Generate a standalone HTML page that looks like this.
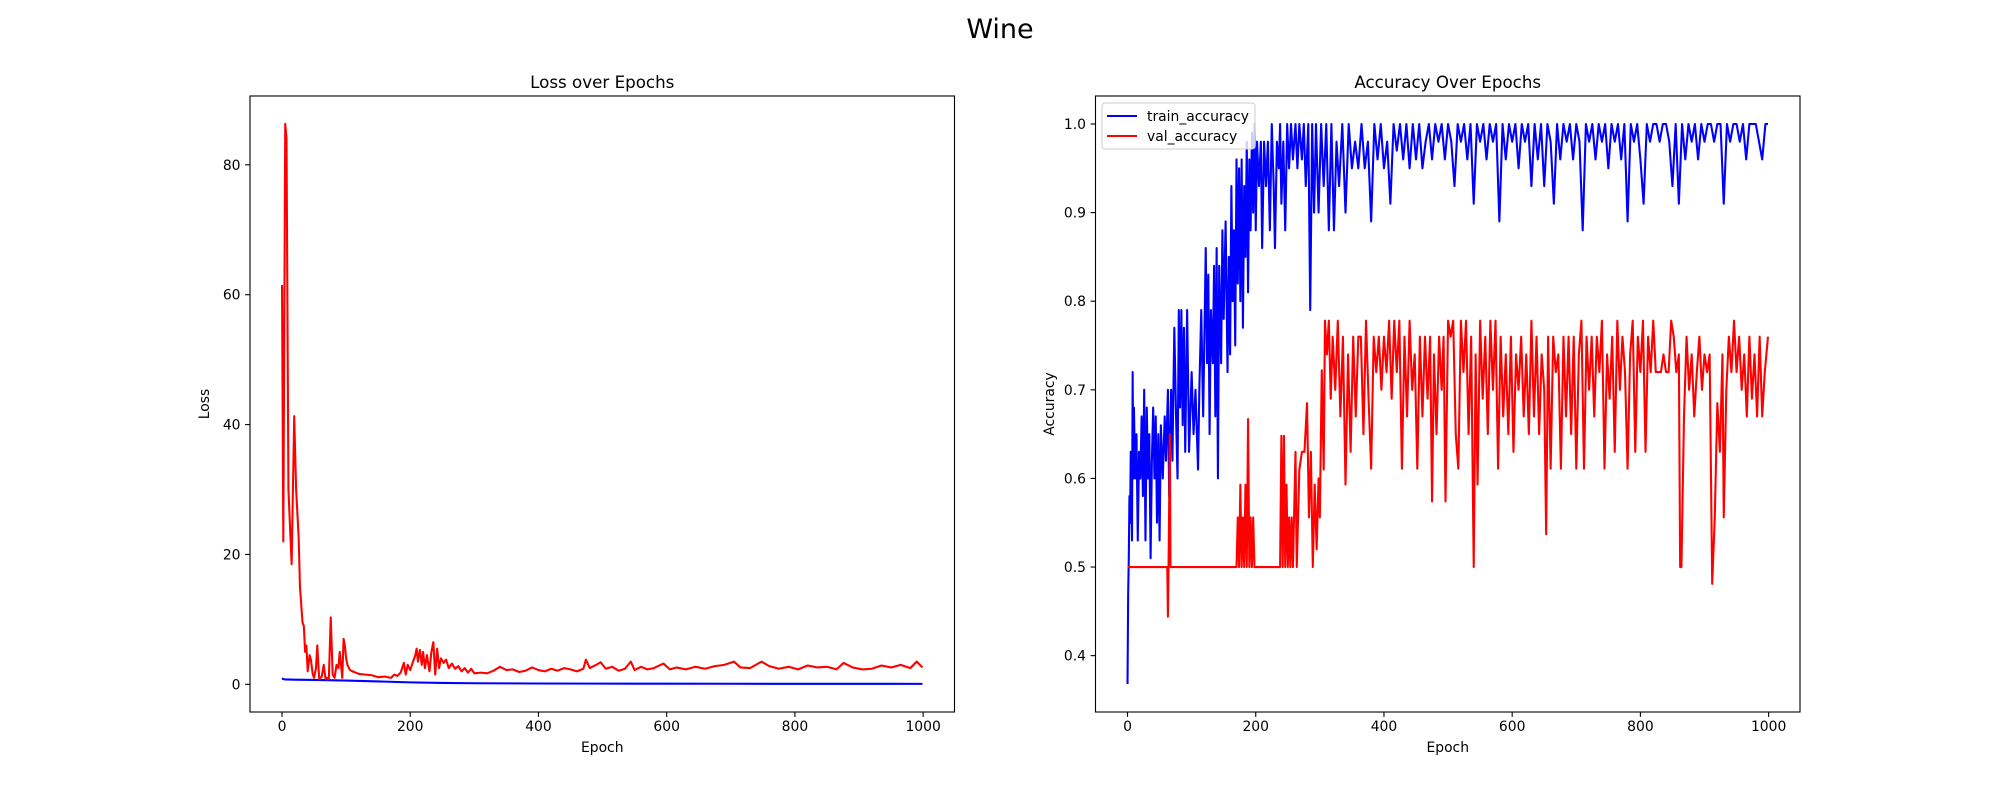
<!DOCTYPE html>
<html><head><meta charset="utf-8">
<style>
html,body{margin:0;padding:0;background:#fff;}
svg{display:block;font-family:"DejaVu Sans","Liberation Sans",sans-serif;}
</style></head>
<body>
<svg id="fig" width="2000" height="800" viewBox="0 0 2000 800" xmlns="http://www.w3.org/2000/svg">
<rect width="2000" height="800" fill="#fff"/>
<text x="1000" y="38" font-size="27" text-anchor="middle">Wine</text>
<g id="left"></g>
<g id="right"></g>
</svg>
<script>
// ---- Loss chart data ----
const lossValEpochs = [0,2,5,7,10,15,19,22,26,28,32,34,36,38,40,43,45,48,50,53,55,58,62,65,68,70,73,76,79,82,85,88,90,92,94,96,98,100,102,106,110,120,130,140,150,160,170,175,180,185,190,193,196,200,204,208,210,212,215,218,220,223,226,230,233,236,239,242,245,248,252,256,260,265,270,275,280,285,290,295,300,310,320,330,340,350,360,370,380,390,400,410,420,430,440,450,460,470,474,480,490,497,505,515,525,535,544,550,560,570,580,595,605,615,630,645,660,675,690,705,715,730,748,760,775,790,805,820,835,850,865,876,890,905,920,935,950,965,980,990,999];
const lossVal = [61.5,22,86.3,84,30,18.5,41.3,30,22.5,15,9.5,9,5,6,2,4.5,3.8,1.5,1,2.5,6,0.8,1.2,3,0.8,1,0.8,10.3,1.5,1,3,2.5,5,3,1,7,6,4,3,2.2,2,1.6,1.5,1.4,1.1,1.2,1,1.5,1.3,1.8,3.3,1.5,3,2.2,3.4,4.5,5.5,3.5,5.3,3,5,2.5,4.5,2,5,6.5,1.5,5.5,2.5,4,3.3,3.8,2.5,3.2,2.4,2.8,2,2.5,1.8,2.4,1.7,1.8,1.7,2.1,2.7,2.2,2.3,1.9,2.1,2.6,2.2,2.0,2.4,2.1,2.5,2.3,2.0,2.4,3.8,2.5,3.0,3.4,2.4,2.7,2.1,2.4,3.5,2.2,2.7,2.3,2.5,3.2,2.3,2.6,2.3,2.7,2.4,2.8,3.0,3.5,2.6,2.5,3.5,2.8,2.4,2.7,2.3,2.9,2.6,2.7,2.3,3.3,2.6,2.3,2.4,2.9,2.6,3.0,2.5,3.5,2.6];
const lossTrainEpochs = [0,2,5,20,50,100,150,200,250,300,400,500,600,700,800,900,999];
const lossTrain = [0.95,0.8,0.75,0.72,0.68,0.58,0.45,0.3,0.22,0.17,0.13,0.11,0.1,0.09,0.08,0.08,0.07];
const lossXTicks = [0,200,400,600,800,1000];
const lossYTicks = [0,20,40,60,80];

// ---- Accuracy chart data ----
const trainAccEpochs = [0,1,2,3,4,5,7,8,9,10,12,14,16,18,20,22,24,26,28,30,32,34,36,38,40,42,44,46,48,50,52,55,58,60,63,65,68,70,73,76,78,80,82,84,86,88,90,93,96,100,103,106,110,112,115,118,122,124,126,128,130,133,135,137,139,141,143,146,148,150,153,156,158,160,162,164,166,168,170,172,174,176,178,180,182,184,186,188,190,192,194,196,198,200,202,205,208,210,213,216,219,222,225,228,230,233,236,238,240,243,246,249,252,255,258,262,265,268,272,275,278,282,285,288,291,294,298,302,306,310,314,318,322,326,330,335,340,345,350,355,360,365,370,375,380,385,390,395,400,405,410,415,420,425,430,435,440,445,450,455,460,465,470,475,480,485,490,495,500,505,510,515,520,525,530,535,540,545,550,555,560,565,570,575,580,585,590,595,600,605,610,615,620,625,630,635,640,645,650,655,660,665,670,675,680,685,690,695,700,705,710,715,720,725,730,735,740,745,750,755,760,765,770,775,780,785,790,795,800,805,810,815,820,825,830,835,840,845,850,855,860,865,870,875,880,885,890,895,900,905,910,915,920,925,930,935,940,945,950,955,960,965,970,975,980,985,990,995,999];
const trainAcc = [0.368,0.47,0.51,0.58,0.55,0.63,0.53,0.72,0.60,0.68,0.60,0.65,0.53,0.63,0.60,0.67,0.58,0.70,0.53,0.68,0.60,0.65,0.51,0.62,0.68,0.60,0.67,0.55,0.65,0.53,0.66,0.60,0.67,0.62,0.70,0.58,0.70,0.62,0.77,0.66,0.60,0.79,0.68,0.79,0.66,0.77,0.63,0.79,0.63,0.72,0.65,0.70,0.61,0.70,0.79,0.67,0.86,0.73,0.83,0.65,0.79,0.73,0.84,0.67,0.86,0.60,0.84,0.73,0.88,0.78,0.89,0.72,0.85,0.74,0.93,0.80,0.88,0.75,0.96,0.82,0.95,0.80,0.96,0.77,0.93,0.85,0.98,0.81,0.96,0.88,0.99,0.90,1.0,0.88,0.98,0.93,0.98,0.86,0.98,0.93,0.98,0.88,1.0,0.93,0.86,0.98,0.95,1.0,0.91,0.98,0.88,1.0,0.95,1.0,0.96,1.0,0.95,1.0,0.96,1.0,0.93,1.0,0.79,1.0,0.90,1.0,0.90,1.0,0.93,1.0,0.88,1.0,0.88,0.98,0.93,1.0,0.90,1.0,0.95,0.98,0.95,1.0,0.95,0.98,0.89,1.0,0.96,1.0,0.95,0.98,0.91,1.0,0.97,1.0,0.96,1.0,0.95,1.0,0.96,1.0,0.95,0.98,1.0,0.96,1.0,0.98,1.0,0.96,1.0,0.98,0.93,1.0,0.98,1.0,0.96,1.0,0.91,1.0,0.98,1.0,0.96,1.0,0.98,1.0,0.89,1.0,0.96,1.0,0.98,1.0,0.95,1.0,0.98,1.0,0.93,1.0,0.96,1.0,0.93,1.0,0.98,0.91,1.0,0.96,1.0,0.98,1.0,0.96,1.0,0.98,0.88,1.0,0.98,1.0,0.96,1.0,0.98,1.0,0.95,1.0,0.98,1.0,0.96,1.0,0.89,1.0,0.98,1.0,0.96,0.91,1.0,0.98,1.0,1.0,0.98,1.0,1.0,0.98,0.93,1.0,0.91,1.0,0.96,1.0,0.98,1.0,0.96,1.0,0.98,1.0,1.0,0.98,1.0,1.0,0.91,1.0,0.98,1.0,1.0,0.98,1.0,0.96,1.0,1.0,1.0,0.98,0.96,1.0,1.0];
const valAccEpochs = [0,62,63,64,66,67,70,170,172,174,176,178,180,182,184,186,188,190,192,194,196,198,238,240,242,244,246,248,250,252,254,256,258,262,264,268,272,276,280,283,286,289,292,295,298,300,303,306,308,311,314,317,320,324,328,332,336,340,344,348,352,356,360,364,368,372,376,380,384,388,392,396,400,404,408,412,416,420,424,428,432,436,440,444,448,452,456,460,464,468,472,475,478,482,486,490,493,496,500,504,508,512,516,520,524,528,532,536,540,543,546,550,554,558,562,566,570,574,578,582,586,590,594,598,602,606,610,614,618,622,626,630,634,638,642,646,650,653,656,660,664,668,672,676,680,684,688,692,696,700,704,708,712,716,720,724,728,732,736,740,744,748,752,756,760,764,768,772,776,780,784,788,792,796,800,804,808,812,816,820,824,828,832,836,840,844,848,852,856,860,862,864,868,872,876,880,884,888,892,896,900,904,908,912,916,920,924,928,930,934,938,942,946,950,954,958,962,966,970,974,978,982,986,990,994,999];
const valAcc = [0.5,0.5,0.444,0.5,0.65,0.5,0.5,0.5,0.556,0.5,0.593,0.5,0.556,0.5,0.593,0.5,0.667,0.5,0.556,0.5,0.556,0.5,0.5,0.648,0.5,0.648,0.5,0.593,0.5,0.556,0.5,0.556,0.5,0.63,0.5,0.61,0.63,0.63,0.685,0.556,0.63,0.5,0.593,0.52,0.6,0.556,0.722,0.61,0.778,0.74,0.778,0.69,0.76,0.70,0.778,0.67,0.76,0.593,0.74,0.63,0.76,0.67,0.76,0.76,0.65,0.778,0.69,0.611,0.76,0.72,0.76,0.70,0.76,0.72,0.778,0.69,0.778,0.72,0.778,0.611,0.76,0.67,0.778,0.70,0.74,0.611,0.76,0.67,0.76,0.69,0.76,0.574,0.74,0.65,0.76,0.70,0.76,0.574,0.778,0.76,0.778,0.65,0.611,0.778,0.72,0.778,0.65,0.76,0.5,0.74,0.593,0.778,0.69,0.76,0.65,0.778,0.70,0.778,0.611,0.76,0.67,0.74,0.65,0.76,0.63,0.74,0.70,0.76,0.67,0.74,0.65,0.778,0.67,0.76,0.65,0.74,0.70,0.537,0.76,0.611,0.76,0.72,0.74,0.611,0.76,0.67,0.76,0.65,0.76,0.611,0.74,0.778,0.611,0.76,0.70,0.76,0.67,0.76,0.72,0.778,0.611,0.74,0.69,0.76,0.63,0.778,0.70,0.76,0.72,0.611,0.74,0.778,0.63,0.76,0.72,0.778,0.63,0.76,0.72,0.778,0.72,0.72,0.72,0.74,0.72,0.72,0.778,0.76,0.72,0.74,0.5,0.5,0.67,0.76,0.70,0.74,0.67,0.72,0.76,0.70,0.74,0.72,0.74,0.481,0.556,0.685,0.63,0.74,0.556,0.70,0.76,0.72,0.778,0.72,0.76,0.70,0.74,0.67,0.76,0.69,0.74,0.67,0.76,0.67,0.72,0.76];
const accXTicks = [0,200,400,600,800,1000];
const accYTicks = [0.4,0.5,0.6,0.7,0.8,0.9,1.0];

const NS = "http://www.w3.org/2000/svg";
function mk(tag, attrs, parent){
  const e = document.createElementNS(NS, tag);
  for (const k in attrs) e.setAttribute(k, attrs[k]);
  parent.appendChild(e);
  return e;
}
function drawAxes(g, box, xd, yd, xTicks, yTicks, yFmt, title, ylab, ylabX, prefix){
  const sx = v => box.x0 + (v - xd[0]) / (xd[1] - xd[0]) * (box.x1 - box.x0);
  const sy = v => box.y1 - (v - yd[0]) / (yd[1] - yd[0]) * (box.y1 - box.y0);
  xTicks.forEach(t => {
    const x = sx(t);
    const l = mk('line', {x1:x, x2:x, y1:box.y1, y2:box.y1+4.9, stroke:'#000', 'stroke-width':1.1}, g);
    
    
    const tx = mk('text', {x:x, y:731, 'font-size':13.9, 'text-anchor':'middle'}, g);
    tx.textContent = String(t);
    
    
  });
  yTicks.forEach(t => {
    const y = sy(t);
    const l = mk('line', {x1:box.x0-4.9, x2:box.x0, y1:y, y2:y, stroke:'#000', 'stroke-width':1.1}, g);
    
    
    const tx = mk('text', {x:box.x0-9.5, y:y+5, 'font-size':13.9, 'text-anchor':'end'}, g);
    tx.textContent = yFmt(t);
    
    
  });
  const tt = mk('text', {x:(box.x0+box.x1)/2, y:88, 'font-size':16.7, 'text-anchor':'middle'}, g);
  tt.textContent = title;
  
  
  const xl = mk('text', {x:(box.x0+box.x1)/2, y:752, 'font-size':13.9, 'text-anchor':'middle'}, g);
  xl.textContent = 'Epoch';
  
  
  const cy = (box.y0+box.y1)/2;
  const yl = mk('text', {x:ylabX, y:cy, 'font-size':13.9, 'text-anchor':'middle', transform:'rotate(-90 '+ylabX+' '+cy+')'}, g);
  yl.textContent = ylab;
  
  
  return {sx, sy};
}
function drawLine(g, xs, ys, sx, sy, color, name){
  const d = xs.map((x,i) => (i?'L':'M') + sx(x).toFixed(2) + ',' + sy(ys[i]).toFixed(2)).join('');
  const p = mk('path', {d:d, fill:'none', stroke:color, 'stroke-width':2.08, 'stroke-linejoin':'round'}, g);
  
  
}
function frame(g, box, name){
  const r = mk('rect', {x:box.x0, y:box.y0, width:box.x1-box.x0, height:box.y1-box.y0, fill:'none', stroke:'#000', 'stroke-width':1.1}, g);
  
  
}

// Left
const gl = document.getElementById('left');
const boxL = {x0:250, x1:954.5, y0:96, y1:712};
const aL = drawAxes(gl, boxL, [-49.95,1048.95], [-4.26,90.6], lossXTicks, lossYTicks, t=>String(t), 'Loss over Epochs', 'Loss', 209, 'loss');
drawLine(gl, lossTrainEpochs, lossTrain, aL.sx, aL.sy, '#0000ff', 'train-loss-line');
drawLine(gl, lossValEpochs, lossVal, aL.sx, aL.sy, '#ff0000', 'val-loss-line');
frame(gl, boxL, 'loss-plot-area');

// Right
const gr = document.getElementById('right');
const boxR = {x0:1095.5, x1:1800, y0:96, y1:712};
const aR = drawAxes(gr, boxR, [-49.95,1048.95], [0.3364,1.0316], accXTicks, accYTicks, t=>t.toFixed(1), 'Accuracy Over Epochs', 'Accuracy', 1054, 'accuracy');
drawLine(gr, trainAccEpochs, trainAcc, aR.sx, aR.sy, '#0000ff', 'train-accuracy-line');
drawLine(gr, valAccEpochs, valAcc, aR.sx, aR.sy, '#ff0000', 'val-accuracy-line');
frame(gr, boxR, 'accuracy-plot-area');

// Legend
const lg = mk('g', {}, gr);


const lb = mk('rect', {x:1102, y:103, width:153, height:46, rx:3, fill:'#fff', 'fill-opacity':0.8, stroke:'#cccccc', 'stroke-width':1}, lg);


[['train_accuracy','#0000ff',116],['val_accuracy','#ff0000',136]].forEach(([lab,c,y]) => {
  const e = mk('g', {}, lg);
  
  
  mk('line', {x1:1107, x2:1137, y1:y, y2:y, stroke:c, 'stroke-width':2.08}, e);
  const t = mk('text', {x:1147, y:y+5, 'font-size':13.9}, e);
  t.textContent = lab;
});
</script>
</body></html>
